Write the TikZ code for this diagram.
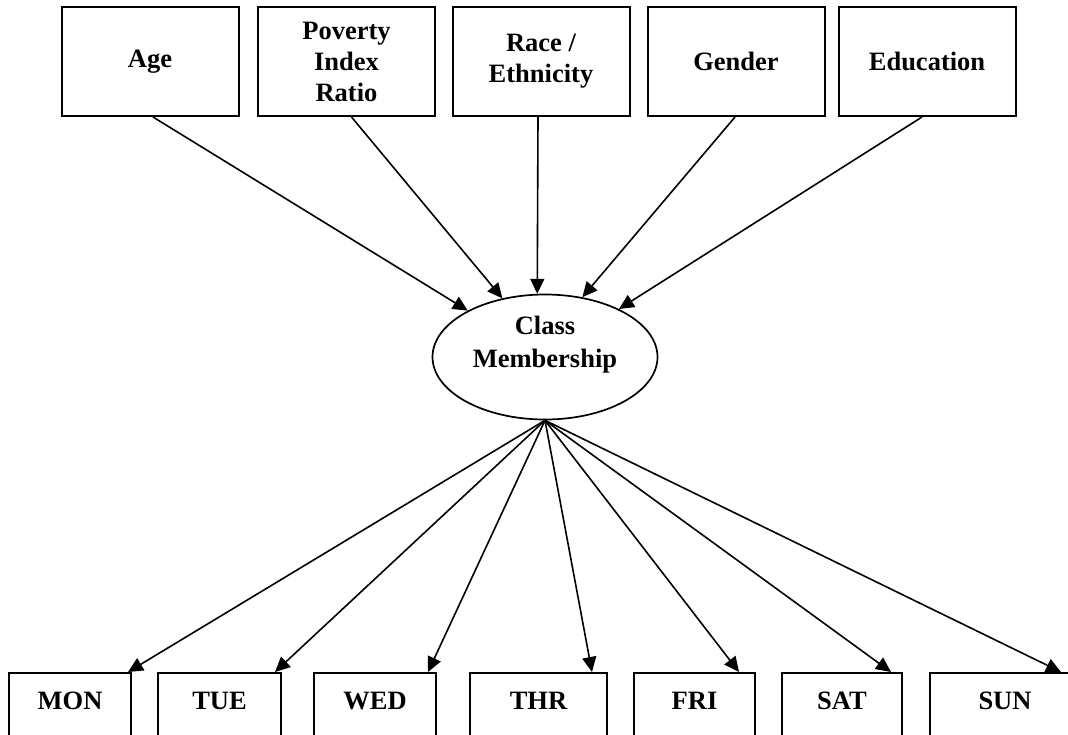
\documentclass[tikz,border=0pt]{standalone}
\usepackage{fontspec}
\setmainfont{Liberation Serif}
\usetikzlibrary{shapes.geometric,arrows.meta}

\begin{document}
\begin{tikzpicture}[x=1pt,y=-1pt,font=\bfseries\fontsize{26.5}{31}\selectfont,
    >={Triangle[length=15pt,width=14pt]}]
\clip (0,0) rectangle (1068,734);

%%%%%%%%%%%%%%%%%%%% Covariates %%%%%%%%%%%%%%%%%%%%%%%%%%
\foreach \var/\xpos/\txt in {age/150/Age, pir/346.5/{Poverty\\Index\\Ratio}, race/541/{Race /\\Ethnicity}, gender/736/Gender, edu/927/Education}
{
    \node[shape=rectangle, draw=black, line width=2pt, minimum width=177pt, minimum height=109pt, inner sep=0pt, align=center] (\var) at (\xpos,61.5) {\txt};
}

%%%%%%%%%%%%%%%%%%%% Latent class %%%%%%%%%%%%%%%%%%%%%%%%%%
\node[ellipse, draw=black, line width=1.7pt, minimum width=225pt, minimum height=125pt, inner sep=0pt, font=\bfseries\fontsize{26.5}{33}\selectfont] (cm) at (545,357) {\raisebox{6pt}[0pt][0pt]{\begin{tabular}{@{}c@{}}Class\\Membership\end{tabular}}};

%%%%%%%%%%%%%%%%%%%% Days %%%%%%%%%%%%%%%%%%%%%%%%%%
\foreach \day/\xpos/\boxw/\txt in {mon/70/122/MON, tue/219.5/123/TUE, wed/375/122/WED, thr/538.5/137/THR, fri/694.5/121/FRI, sat/842/120/SAT, sun/1005/150/SUN}
{
    \node[shape=rectangle, draw=black, line width=2pt, minimum width=\boxw pt, inner sep=0pt, text height=36pt, text depth=80pt, anchor=north] (\day) at (\xpos,672) {\txt};
}

%Draw arrows into the class
\foreach \var/\sh/\ang in {age/3/149, pir/5/126, race/-3/97, gender/-1/58, edu/-5/33}
{
    \path [->, line width=1.6pt] ([xshift=\sh pt]\var.south) edge (cm.\ang);
}
%Draw arrows out of the class
\foreach \day/\off in {mon/4, tue/7, wed/9, thr/16, fri/17, sat/12, sun/20}
{
    \path [->, line width=1.6pt] (cm.south) edge ([xshift=-\off pt]\day.north east);
}

\end{tikzpicture}
\end{document}
